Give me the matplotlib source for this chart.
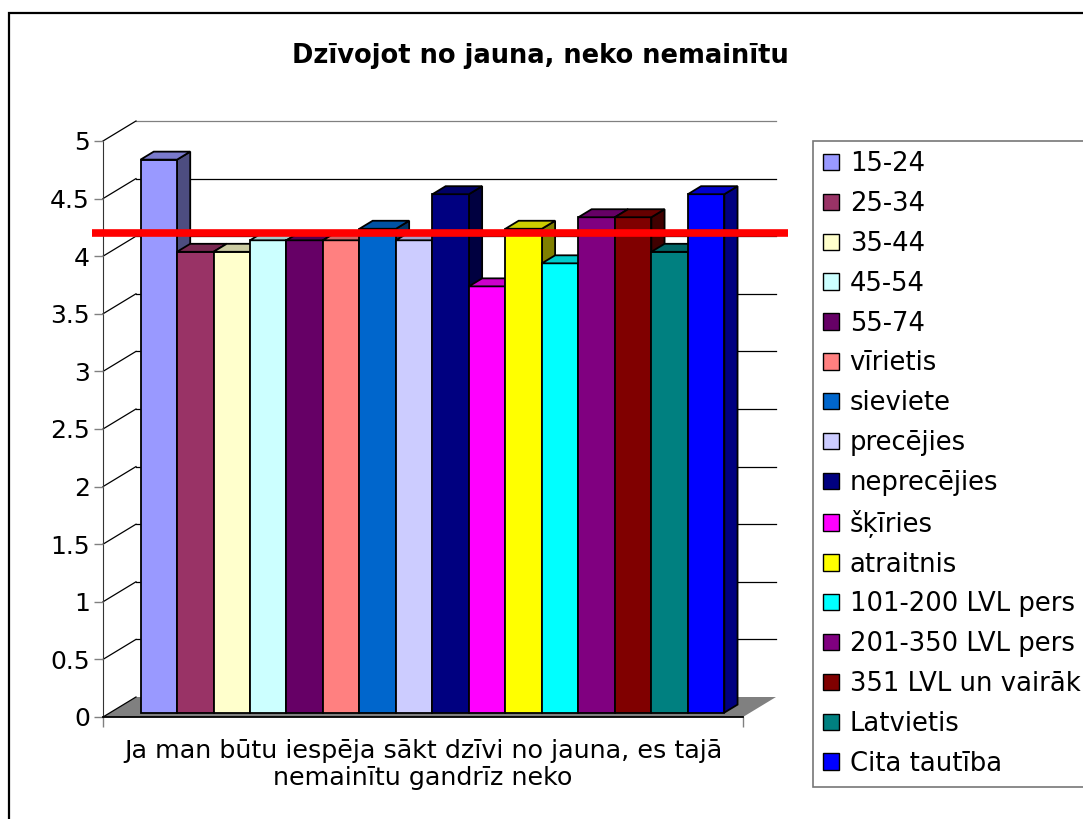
import matplotlib
matplotlib.use("Agg")
import matplotlib.pyplot as plt
from matplotlib.patches import Polygon, Rectangle, Patch
import numpy as np

# ---- data ----
title = "Dzīvojot no jauna, neko nemainītu"
category_label = "Ja man būtu iespēja sākt dzīvi no jauna, es tajā\nnemainītu gandrīz neko"
series_names = ["15-24", "25-34", "35-44", "45-54", "55-74", "vīrietis", "sieviete",
                "precējies", "neprecējies", "šķīries", "atraitnis", "101-200 LVL pers",
                "201-350 LVL pers", "351 LVL un vairāk", "Latvietis", "Cita tautība"]
values = [4.8, 4.0, 4.0, 4.1, 4.1, 4.1, 4.2, 4.1, 4.5, 3.7, 4.2, 3.9, 4.3, 4.3, 4.0, 4.5]
colors = ["#9999FF", "#993366", "#FFFFCC", "#CCFFFF", "#660066", "#FF8080", "#0066CC",
          "#CCCCFF", "#000080", "#FF00FF", "#FFFF00", "#00FFFF", "#800080", "#800000",
          "#008080", "#0000FF"]
red_line_value = 4.2
y_ticks = [0, 0.5, 1, 1.5, 2, 2.5, 3, 3.5, 4, 4.5, 5]
y_tick_labels = ["0", "0.5", "1", "1.5", "2", "2.5", "3", "3.5", "4", "4.5", "5"]

# ---- layout / style ----
plt.rcParams['font.family'] = ['DejaVu Sans']
W, H = 1083, 819
fig = plt.figure(figsize=(W / 100, H / 100), dpi=100)

n = len(values)
gap = 0.83              # space before/after bars (in bar widths)
cat_w = n + 2 * gap - 0.12
Dx, Dy = 0.904, 0.1736  # full depth offset (data units)
d0, dt = 0.22, 0.40     # bar front depth fraction and bar depth fraction

ax = fig.add_axes([103 / W, 102 / H, 640 / W, 576 / H])
ax.set_xlim(0, cat_w)
ax.set_ylim(0, 5)
ax.patch.set_visible(False)

# floor
ax.add_patch(Polygon([(0, 0), (cat_w, 0), (cat_w + Dx, Dy), (Dx, Dy)], closed=True,
                     facecolor="#808080", edgecolor="none", zorder=1, clip_on=False))
# back wall gridlines and side diagonals
for v in y_ticks:
    if v > 0:
        ax.plot([Dx, cat_w + Dx], [v + Dy, v + Dy], color="#808080" if v == 5 else "black",
                lw=0.9, zorder=1.2, clip_on=False)
    ax.plot([0, Dx], [v, v + Dy], color="black", lw=0.9, zorder=1.2, clip_on=False)


def shade(c, f):
    rgb = np.array(matplotlib.colors.to_rgb(c))
    return tuple(rgb * f)


for i, (v, c) in enumerate(zip(values, colors)):
    z = 2 + i * 0.01
    x0 = gap + i + d0 * Dx
    y0 = d0 * Dy
    ox, oy = dt * Dx, dt * Dy
    # front
    ax.add_patch(Rectangle((x0, y0), 1, v, facecolor=c, edgecolor="black", lw=1.3,
                           zorder=z, clip_on=False, joinstyle="miter"))
    # top
    ax.add_patch(Polygon([(x0, y0 + v), (x0 + 1, y0 + v), (x0 + 1 + ox, y0 + v + oy),
                          (x0 + ox, y0 + v + oy)], closed=True, facecolor=shade(c, 0.8),
                         edgecolor="black", lw=1.3, zorder=z, clip_on=False))
    # right side
    ax.add_patch(Polygon([(x0 + 1, y0), (x0 + 1 + ox, y0 + oy), (x0 + 1 + ox, y0 + v + oy),
                          (x0 + 1, y0 + v)], closed=True, facecolor=shade(c, 0.5),
                         edgecolor="black", lw=1.3, zorder=z - 0.005, clip_on=False))

# red reference line
ax.plot([-0.3, cat_w + 1.24], [red_line_value, red_line_value], color="#FF0000", lw=5.5,
        solid_capstyle="butt", zorder=10, clip_on=False)

# axes styling
for s in ["top", "right"]:
    ax.spines[s].set_visible(False)
ax.spines["left"].set_color("#333333")
ax.spines["bottom"].set_color("black")
ax.spines["bottom"].set_linewidth(1.3)
ax.spines["left"].set_zorder(1.5)
ax.set_yticks(y_ticks)
ax.set_yticklabels(y_tick_labels, fontsize=18)
ax.tick_params(axis="y", direction="out", length=6.5, width=1, color="#808080", pad=3)
ax.set_xticks([cat_w / 2])
ax.set_xticklabels([category_label], fontsize=18.3, linespacing=1.12)
ax.set_xticks([0, cat_w], minor=True)
ax.tick_params(axis="x", which="major", length=0, pad=16)
ax.tick_params(axis="x", which="minor", length=7.5, width=1, color="#808080", direction="out")

# title
fig.text(540 / W, 1 - 63 / H, title, ha="center", va="baseline", fontsize=18.5,
         fontweight="bold")

# legend
handles = [Patch(facecolor=c, edgecolor="black", lw=1) for c in colors]
leg = fig.legend(handles, series_names, loc="upper left",
                 bbox_to_anchor=(813 / W, 1 - 141 / H), bbox_transform=fig.transFigure,
                 fontsize=18.6, frameon=True, fancybox=False, shadow=False,
                 handlelength=0.6, handleheight=0.6, handletextpad=0.42,
                 labelspacing=0.535, borderpad=0.4, borderaxespad=0)
leg.get_frame().set_edgecolor("#555555")
leg.get_frame().set_linewidth(1.2)

# outer chart border
fig.patches.append(Rectangle((9 / W, -0.1), 1.2, 1 - 13 / H + 0.1, transform=fig.transFigure,
                             fill=False, edgecolor="black", lw=1.6, zorder=0))

fig.savefig("out.png", dpi=100)
